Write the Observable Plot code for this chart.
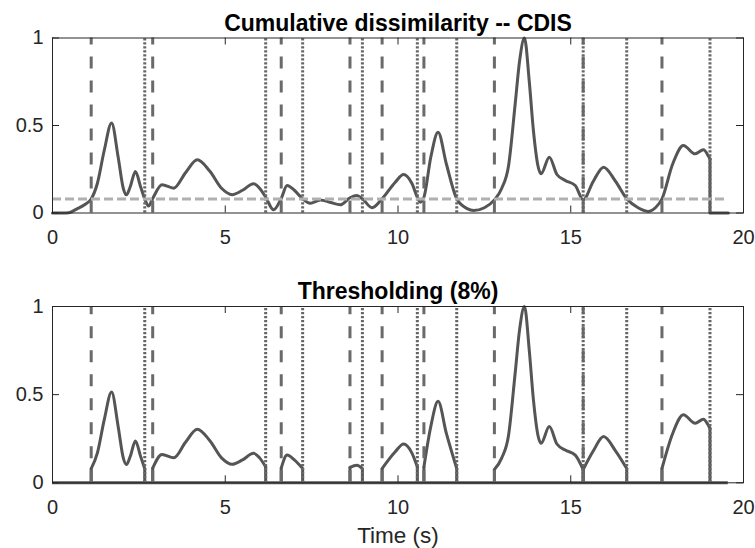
<!DOCTYPE html>
<html><head><meta charset="utf-8">
<script src="https://cdn.jsdelivr.net/npm/d3@7"></script>
<script src="https://cdn.jsdelivr.net/npm/@observablehq/plot@0.6"></script>
<style>
body{margin:0;background:#fff;}
#chart{position:relative;width:755px;height:548px;font-family:"Liberation Sans",Arial,sans-serif;}
#chart svg{display:block;}
</style></head><body><div id="chart"></div>
<script>
// ---- data ----
const times = [0, 0.3, 0.47, 0.71, 0.95, 1.12, 1.3, 1.5, 1.71, 1.9, 2.05, 2.14, 2.25, 2.40, 2.55, 2.67, 2.78, 2.90,
  3.17, 3.51, 3.85, 4.19, 4.55, 4.9, 5.2, 5.5, 5.82, 6.0, 6.17, 6.40, 6.62, 6.79, 7.0, 7.24, 7.46, 7.75, 8.05, 8.33,
  8.61, 8.81, 8.97, 9.25, 9.54, 9.92, 10.16, 10.4, 10.56, 10.64, 10.75, 10.95, 11.16, 11.4, 11.70, 12.0, 12.19, 12.5,
  12.79, 13.0, 13.2, 13.39, 13.52, 13.66, 13.8, 13.92, 14.05, 14.14, 14.38, 14.6, 14.84, 15.13, 15.36, 15.65, 15.95,
  16.3, 16.62, 16.95, 17.25, 17.45, 17.64, 17.95, 18.26, 18.6, 18.84, 19.0, 19.03];
const values = [0, 0, 0.002, 0.024, 0.05, 0.08, 0.17, 0.36, 0.515, 0.32, 0.14, 0.104, 0.15, 0.237, 0.15, 0.08, 0.04, 0.083,
  0.161, 0.142, 0.23, 0.304, 0.24, 0.14, 0.105, 0.13, 0.167, 0.14, 0.09, 0.018, 0.083, 0.157, 0.13, 0.081, 0.056, 0.075, 0.06, 0.047,
  0.087, 0.1, 0.081, 0.03, 0.081, 0.176, 0.22, 0.17, 0.09, 0.062, 0.09, 0.32, 0.462, 0.28, 0.081, 0.025, 0.014, 0.03,
  0.075, 0.14, 0.27, 0.62, 0.87, 1.0, 0.75, 0.47, 0.27, 0.224, 0.319, 0.22, 0.186, 0.157, 0.075, 0.18, 0.262,
  0.18, 0.081, 0.03, 0.009, 0.03, 0.081, 0.28, 0.386, 0.338, 0.361, 0.32, 0.31];
const signalEnd = 19.56;
const onsets  = [1.12, 2.90, 6.62, 8.61, 9.54, 10.75, 12.79, 15.36, 17.64];
const offsets = [2.67, 6.17, 7.24, 8.97, 10.56, 11.70, 15.36, 16.62, 19.03];
const threshold = 0.08;
const xTicks = [0, 5, 10, 15, 20];
const yTicks = [0, 0.5, 1];
const titles = ["Cumulative dissimilarity -- CDIS", "Thresholding (8%)"];
const xLabel = "Time (s)";

// ---- derived tables ----
const curve = times.map((t, i) => ({t, v: values[i]}));
const last = curve[curve.length - 1];
const tail = [{t: last.t, v: 0}, {t: signalEnd, v: 0}];
const segs = onsets.flatMap((on, k) => curve.filter(d => d.t >= on && d.t <= offsets[k]).map(d => ({...d, k})));
const edges = [...onsets, ...offsets].map(t => curve.find(d => d.t === t));

const FONT = '"Liberation Sans", Arial, sans-serif';
const AX = "#262626";
const CURVE = "#555555";

function panel({h, mt, mb, title, titleDy, marks, label}) {
  const fh = h - mt - mb;
  return Plot.plot({
    width: 755, height: h, marginLeft: 52, marginRight: 12, marginTop: mt, marginBottom: mb,
    x: {domain: [0, 20]}, y: {domain: [0, 1]},
    style: {fontFamily: FONT, fontSize: "20px", color: AX, background: "white", overflow: "visible"},
    marks: [
      Plot.axisX({ticks: xTicks, tickSize: 0, tickPadding: 17, tickFormat: d => String(d), label: null, fontSize: 20}),
      Plot.axisY({ticks: yTicks, tickSize: 0, tickPadding: 9, tickFormat: d => String(d), label: null, fontSize: 20}),
      ...marks,
      Plot.ruleX(xTicks, {insetTop: fh - 7, stroke: AX, strokeWidth: 1}),
      Plot.ruleX(xTicks, {insetBottom: fh - 7, stroke: AX, strokeWidth: 1}),
      Plot.ruleY(yTicks, {insetRight: 691 - 7, stroke: AX, strokeWidth: 1}),
      Plot.ruleY(yTicks, {insetLeft: 691 - 7, stroke: AX, strokeWidth: 1}),
      Plot.frame({stroke: AX, strokeWidth: 1}),
      Plot.text([title], {frameAnchor: "top", lineAnchor: "bottom", dy: titleDy, fontSize: 23, fontWeight: "bold", fill: "black"}),
      ...(label ? [Plot.text([label], {frameAnchor: "bottom", lineAnchor: "bottom", dy: 60.4, fontSize: 22.5, fill: AX})] : [])
    ]
  });
}

const vlines = [
  Plot.ruleX(onsets, {y1: 0, y2: 1, stroke: "#6a6a6a", strokeWidth: 3, strokeDasharray: "12,12"}),
  Plot.ruleX(offsets, {y1: 0, y2: 1, stroke: "#666666", strokeWidth: 3, strokeDasharray: "2.3,1.7"})
];

const topPlot = panel({
  h: 274, mt: 37.5, mb: 61.5, title: titles[0], titleDy: -7,
  marks: [
    Plot.line(curve, {x: "t", y: "v", curve: "monotone-x", stroke: CURVE, strokeWidth: 3}),
    Plot.ruleX([last], {x: "t", y1: 0, y2: "v", stroke: CURVE, strokeWidth: 3}),
    Plot.line(tail, {x: "t", y: "v", stroke: CURVE, strokeWidth: 3}),
    ...vlines,
    Plot.ruleY([threshold], {x1: 0, x2: signalEnd, stroke: "#b0b0b0", strokeWidth: 3, strokeDasharray: "9,4"})
  ]
});

const bottomPlot = panel({
  h: 274, mt: 32, mb: 65.7, title: titles[1], titleDy: -7.7, label: xLabel,
  marks: [
    Plot.ruleY([0], {x1: 0, x2: signalEnd, stroke: CURVE, strokeWidth: 3}),
    Plot.line(segs, {x: "t", y: "v", z: "k", curve: "monotone-x", stroke: CURVE, strokeWidth: 3}),
    Plot.ruleX(edges, {x: "t", y1: 0, y2: "v", stroke: CURVE, strokeWidth: 3}),
    ...vlines
  ]
});

document.getElementById("chart").append(topPlot, bottomPlot);
</script></body></html>
